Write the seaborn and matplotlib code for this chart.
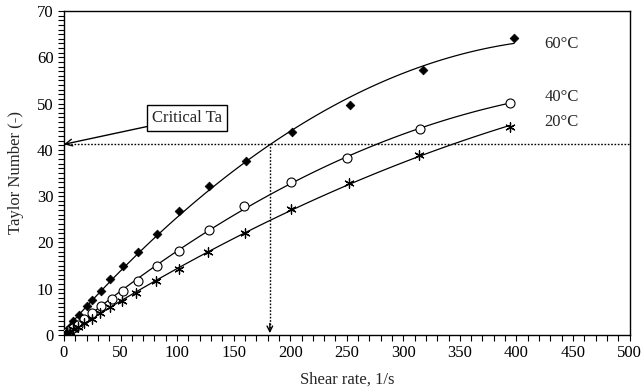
import matplotlib
matplotlib.use("Agg")
import matplotlib.pyplot as plt
import seaborn as sns
import pandas as pd
from matplotlib.ticker import MultipleLocator

# ---- data ----
rate_60 = [0.5, 1.6, 3, 5, 8, 13, 20, 25, 33, 41, 52, 65, 82, 102, 128, 161, 202, 253, 317, 398]
ta_60 = [0.2, 0.6, 1.1, 1.8, 3.0, 4.3, 6.3, 7.6, 9.6, 12.2, 14.8, 18.0, 21.8, 26.8, 32.2, 37.5, 43.9, 49.7, 57.3, 64.1]

rate_40 = [0.5, 1.6, 3, 5, 8, 12, 18, 25, 33, 42, 52, 65, 82, 102, 128, 159, 201, 250, 315, 394]
ta_40 = [0.1, 0.3, 0.6, 1.0, 1.5, 2.2, 3.4, 4.8, 6.3, 7.8, 9.6, 11.7, 15.0, 18.2, 22.7, 27.8, 33.1, 38.3, 44.4, 50.2]

rate_20 = [0.5, 1.6, 3, 5, 8, 12, 18, 25, 32, 41, 51, 64, 81, 102, 127, 160, 201, 252, 314, 394]
ta_20 = [0.1, 0.2, 0.4, 0.7, 1.2, 1.7, 2.5, 3.4, 4.7, 6.0, 7.4, 9.1, 11.6, 14.3, 17.9, 22.0, 27.2, 32.8, 38.8, 45.0]

series_labels = ["60°C", "40°C", "20°C"]
label_y = [62.9, 51.4, 46.1]
label_x = 425

critical_ta = 41.2
critical_rate = 182
critical_text = "Critical Ta"
critical_text_pos = (109, 46.9)

x_label = "Shear rate, 1/s"
y_label = "Taylor Number (-)"

# ---- style ----
sns.set_style("ticks")
plt.rcParams["font.family"] = ["Liberation Serif", "DejaVu Serif"]
plt.rcParams["font.size"] = 12

fig = plt.figure(figsize=(6.42, 3.92), dpi=100)
ax = fig.add_axes([64 / 642, 1 - 335 / 392, (629.5 - 64) / 642, (335 - 11) / 392])

df60 = pd.DataFrame({"x": rate_60, "y": ta_60})
df40 = pd.DataFrame({"x": rate_40, "y": ta_40})
df20 = pd.DataFrame({"x": rate_20, "y": ta_20})

line_kw = dict(color="black", linewidth=0.9)
for d in (df60, df40, df20):
    sns.regplot(data=d, x="x", y="y", order=2, ci=None, scatter=False,
                truncate=True, line_kws=line_kw, ax=ax)

sns.scatterplot(data=df60, x="x", y="y", marker="D", s=20, color="black",
                edgecolor="black", linewidth=0.5, ax=ax, zorder=5)
sns.scatterplot(data=df40, x="x", y="y", marker="o", s=42, facecolor="white",
                edgecolor="black", linewidth=0.8, ax=ax, zorder=5)
sns.scatterplot(data=df20, x="x", y="y", marker=(6, 2, 0), s=45, color="black",
                linewidth=0.9, ax=ax, zorder=5)

for lbl, ly in zip(series_labels, label_y):
    ax.text(label_x, ly, lbl, ha="left", va="center", fontsize=12)

# critical Taylor number lines
ax.axhline(critical_ta, color="black", linewidth=1.0, linestyle=(0, (1.2, 1.2)))
ax.vlines(critical_rate, 1.5, critical_ta, color="black", linewidth=1.0,
          linestyle=(0, (1.2, 1.2)))
ax.annotate("", xy=(critical_rate, 0.4), xytext=(critical_rate, 2.5),
            arrowprops=dict(arrowstyle="->", color="black", lw=1.0,
                            mutation_scale=10, shrinkA=0, shrinkB=0))
ax.annotate(critical_text, xy=(0, critical_ta), xytext=critical_text_pos,
            ha="center", va="center", fontsize=12,
            bbox=dict(boxstyle="square,pad=0.3", facecolor="white",
                      edgecolor="black", linewidth=1.0),
            arrowprops=dict(arrowstyle="->", color="black", lw=1.0,
                            mutation_scale=12, shrinkA=0, shrinkB=0))

ax.set_xlim(0, 500)
ax.set_ylim(0, 70)
ax.xaxis.set_major_locator(MultipleLocator(50))
ax.xaxis.set_minor_locator(MultipleLocator(10))
ax.yaxis.set_major_locator(MultipleLocator(10))
ax.yaxis.set_minor_locator(MultipleLocator(1))
ax.tick_params(which="both", direction="out", length=4, width=0.8,
               colors="black", labelsize=12, top=False, right=False)
ax.tick_params(axis="x", which="major", pad=3)
for sp in ax.spines.values():
    sp.set_visible(True)
    sp.set_color("black")
    sp.set_linewidth(1.0)

ax.set_xlabel(x_label, fontsize=12, labelpad=8)
ax.set_ylabel(y_label, fontsize=12, labelpad=9)

fig.savefig("out.png", dpi=100)
